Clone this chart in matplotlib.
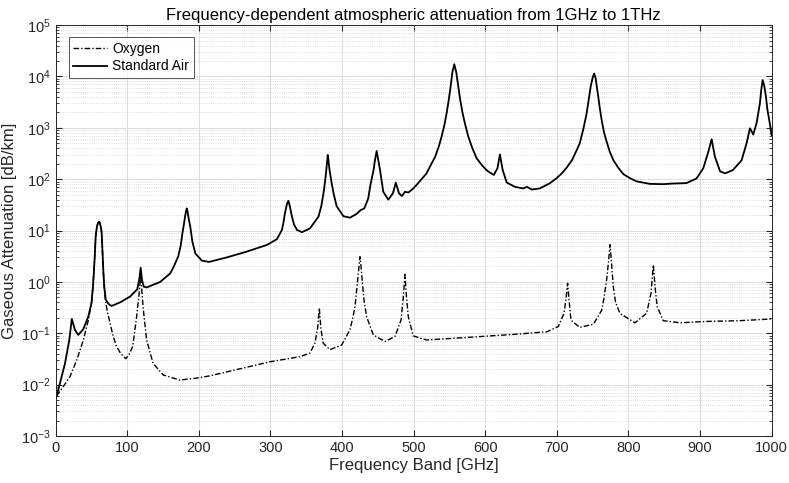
import matplotlib
matplotlib.use("Agg")
import matplotlib.pyplot as plt
from matplotlib.ticker import LogLocator, FixedLocator, NullFormatter

# Standard air attenuation (GHz, dB/km)
air_freq = [1, 6, 13, 19, 22.5, 27, 31.5, 38.5, 45.5, 50, 52, 53.5, 54.7, 55.8, 57, 58, 59, 60.5, 61.5, 62.5,
            63.5, 64.2, 65.3, 66.5, 67.8, 70, 74, 78,
            90, 104, 114, 117, 118.7, 120.5, 123, 127, 146, 160, 165, 171, 174.5, 177, 179, 180.5, 181.8, 183,
            184.2, 185.5, 186.5, 188, 191, 195, 204, 214,
            239, 267, 295, 309, 316, 318, 320, 323, 325, 327, 330, 333, 337, 344, 355, 367, 371, 374, 376, 377.5,
            379, 380, 381, 382.5, 384, 385.5, 388.5, 392.5,
            402, 411, 420, 426, 431, 436.5, 440, 444, 446, 448.3, 450.5, 453, 457.5, 464.5, 471, 475, 479.5,
            483.5, 488, 492.5, 499.5, 506, 511, 518, 524, 530, 535, 539, 543, 546, 549, 551.6, 554, 556.7,
            559.5, 562.3, 565, 568.4, 572, 576.3, 582, 588, 595, 602, 607, 612, 617, 620.5,
            624.3, 630, 641.5, 653, 658, 665, 676, 690, 699, 707, 714, 721, 727, 732, 737, 741.6, 744.5, 747.2,
            750, 752, 754, 757.8, 760, 762.6, 766, 769.5, 774, 779, 786, 793, 802, 811, 830, 849, 860, 881, 895,
            904.5, 911.5, 916.2, 920.8, 928, 935, 946, 958, 965, 969.7,
            974.3, 979, 983.6, 985.5, 987.4, 989.5, 992, 994, 996.6, 998.5, 1000]
air_att = [0.0058, 0.0107, 0.026, 0.074, 0.19, 0.115, 0.093, 0.12, 0.21, 0.39, 0.8, 1.7, 3.5, 7.6, 10.5, 12.5,
           14, 14.8, 14.5, 12.5, 11, 8.9, 4, 1.7, 0.8, 0.45, 0.37, 0.34,
           0.40, 0.52, 0.72, 1.2, 1.9, 1.1, 0.81, 0.78, 1.0, 1.47, 2.0, 3.1, 5, 8.9, 13, 18, 23, 27,
           23, 18, 15, 11.8, 6, 3.6, 2.6, 2.45,
           3.0, 3.9, 5.25, 6.8, 10.3, 14, 21, 33, 38, 30, 18.6, 13, 10.3, 9.3, 11, 18.6, 30, 53, 85, 130,
           220, 297, 230, 150, 110, 83, 50, 29.6,
           19, 17.8, 21, 25, 27, 42, 83, 151, 240, 355, 240, 151, 57, 40, 53, 86, 53,
           47, 57, 55, 66, 83, 100, 130, 190, 273, 430, 675, 1150, 1915, 3500, 6300, 12000, 17300,
           12000, 6300, 3500, 1915, 1150, 675, 400, 255, 190, 149, 133, 121, 163, 303,
           151, 86, 71, 66, 71, 63, 66, 83, 103, 130, 170, 233, 350, 500, 950, 1915, 3500, 6300,
           9500, 11400, 9500, 4100, 2400, 1410, 800, 540, 340, 233, 165, 125, 105, 91, 81, 80, 82, 84, 103,
           163, 340, 600, 273, 142, 130, 151, 233, 500, 980,
           740, 1240, 3000, 5500, 8500, 6800, 4100, 2300, 1410, 1000, 720]

# Oxygen attenuation (GHz, dB/km)
oxy_freq = [1, 10.7, 20, 29.3, 38.6, 45.6, 50, 52, 53.5, 54.7, 55.8, 57, 58, 59, 60.5, 61.5, 62.5, 63.5, 64.2,
            65.3, 66.5, 69, 72, 75.8, 80, 85, 91, 98, 103, 107.5, 110,
            113, 116.5, 118.7, 121, 122.4, 127, 136, 150, 173, 197, 215, 300, 341, 355, 362, 366, 368.2, 370.5,
            373.7, 383, 399.4, 411, 415, 418, 421.3, 423.3, 425, 426.8, 428.5, 431, 434.3, 443.6, 460, 474,
            482.3, 485.5, 487.8, 490, 492.5, 499.4, 518, 574, 639, 686, 702, 710, 713, 715, 717, 719.7, 732,
            751, 762.6, 766, 769.5, 772.2, 774.2, 776.2, 778.8, 782, 788, 809, 825.4, 831.5, 834.7, 838, 840.2,
            848.6, 872, 909, 956, 1000]
oxy_att = [0.006, 0.0092, 0.0144, 0.030, 0.074, 0.18, 0.39, 0.8, 1.7, 3.5, 7.6, 10.5, 12.5, 14, 14.8, 14.5,
           12.5, 11, 8.9, 4, 1.5, 0.48, 0.27, 0.16, 0.09, 0.055, 0.04, 0.032, 0.04, 0.055, 0.1,
           0.21, 0.6, 1.3, 0.5, 0.29, 0.074, 0.026, 0.0155, 0.0123, 0.0134, 0.0148, 0.028, 0.035, 0.041, 0.064,
           0.13, 0.31, 0.12, 0.064, 0.048, 0.059, 0.117, 0.2, 0.33, 0.94, 1.8, 3.1, 1.8, 0.9, 0.4, 0.21,
           0.093, 0.069, 0.087, 0.18, 0.5, 1.4, 0.5, 0.21, 0.089, 0.074, 0.083, 0.095, 0.107, 0.135, 0.245,
           0.5, 0.94, 0.45, 0.18, 0.13, 0.15, 0.28, 0.5, 1.1, 2.5, 5.3, 2.5, 0.81, 0.4, 0.245, 0.16, 0.245,
           0.6, 2.15, 0.6, 0.33, 0.176, 0.16, 0.17, 0.176, 0.19]

x_ticks = [0, 100, 200, 300, 400, 500, 600, 700, 800, 900, 1000]

plt.rcParams['font.family'] = ['Liberation Sans', 'DejaVu Sans']
plt.rcParams['mathtext.fontset'] = 'custom'
plt.rcParams['mathtext.rm'] = 'Liberation Sans'
plt.rcParams['mathtext.it'] = 'Liberation Sans'

fig = plt.figure(figsize=(7.89, 4.83), dpi=100)
ax = fig.add_axes([0.0706, 0.0973, 0.9074, 0.8507])

ax.semilogy(oxy_freq, oxy_att, color='black', linestyle=(0, (4, 1.5, 1, 1.5)), linewidth=1.0, label='Oxygen')
ax.semilogy(air_freq, air_att, color='black', linestyle='-', linewidth=1.3, label='Standard Air')

ax.set_xlim(0, 1000)
ax.set_ylim(1e-3, 1e5)
ax.xaxis.set_major_locator(FixedLocator(x_ticks))
ax.yaxis.set_major_locator(LogLocator(base=10, numticks=20))
ax.yaxis.set_minor_locator(LogLocator(base=10, subs=range(2, 10), numticks=20))
ax.yaxis.set_minor_formatter(NullFormatter())

ax.grid(True, which='major', color='#dcdcdc', linestyle='-', linewidth=0.7)
ax.grid(True, which='minor', axis='y', color='#d0d0d0', linestyle=':', linewidth=0.6)
ax.set_axisbelow(True)

ax.tick_params(which='both', direction='in', top=True, right=True, colors='#262626', labelcolor='#262626',
               labelsize=10.5)
ax.tick_params(which='major', length=4)
ax.tick_params(which='minor', length=2)
for s in ax.spines.values():
    s.set_color('#262626')
    s.set_linewidth(0.7)

ax.set_title('Frequency-dependent atmospheric attenuation from 1GHz to 1THz', fontsize=12, color='black', pad=4)
ax.set_xlabel('Frequency Band [GHz]', fontsize=12, color='#262626', labelpad=2)
ax.set_ylabel('Gaseous Attenuation [dB/km]', fontsize=12, color='#262626', labelpad=3)

leg = ax.legend(loc='upper left', bbox_to_anchor=(0.018, 0.971), fontsize=10, frameon=True, fancybox=False,
                edgecolor='#262626', handlelength=2.4, borderpad=0.35, labelspacing=0.25, handletextpad=0.4,
                borderaxespad=0.0)
leg.get_frame().set_linewidth(0.7)

fig.savefig('out.png', dpi=100)
